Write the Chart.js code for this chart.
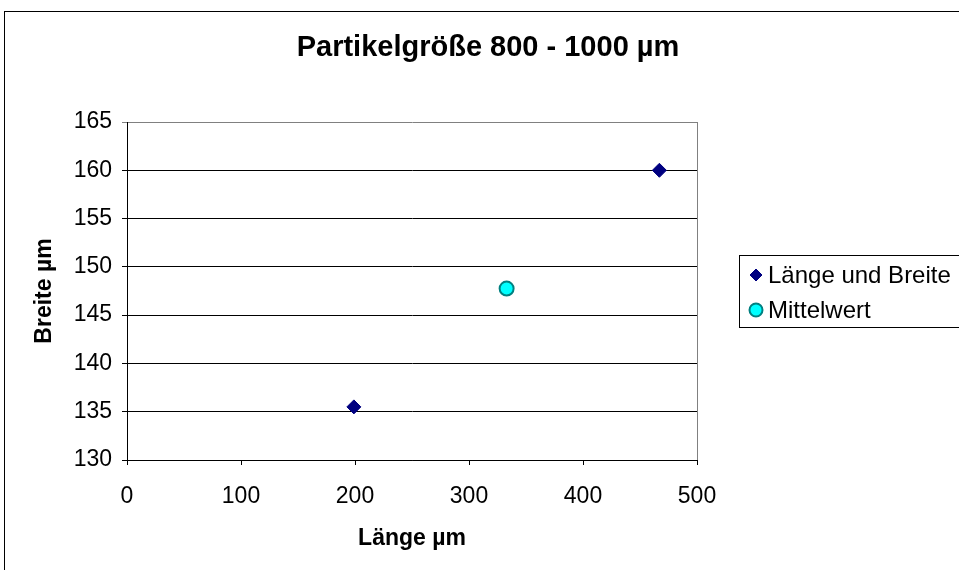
<!DOCTYPE html>
<html>
<head>
<meta charset="utf-8">
<title>Partikelgröße 800 - 1000 µm</title>
<script src="https://cdn.jsdelivr.net/npm/chart.js@4/dist/chart.umd.min.js"></script>
<style>
  html, body { margin: 0; padding: 0; background: #fff; }
  canvas { display: block; }
</style>
</head>
<body>
<canvas id="chart" width="959" height="570"></canvas>
<script>
// values
const laengeWerte = [199, 467];
const breiteWerte = [135.5, 160];
const mittelLaenge = [333];
const mittelBreite = [147.75];
const seriesNames = ['Länge und Breite', 'Mittelwert'];
const chartTitle = 'Partikelgröße 800 - 1000 µm';
const xTicks = [0, 100, 200, 300, 400, 500];
const yTicks = [130, 135, 140, 145, 150, 155, 160, 165];

const FONT = '"Liberation Sans", Arial, sans-serif';

function toPoints(xs, ys) {
  return xs.map((x, i) => ({ x, y: ys[i] }));
}

// outer frame, title, plot-area right edge and the boxed legend (Excel style)
const excelFrame = {
  id: 'excelFrame',
  beforeDraw(chart) {
    const ctx = chart.ctx;
    ctx.save();
    ctx.fillStyle = '#fff';
    ctx.fillRect(0, 0, chart.width, chart.height);
    ctx.strokeStyle = '#000';
    ctx.lineWidth = 1;
    ctx.strokeRect(4.5, 11.5, 1000, 1000);
    ctx.fillStyle = '#000';
    ctx.font = 'bold 29px ' + FONT;
    ctx.textAlign = 'center';
    ctx.textBaseline = 'middle';
    ctx.fillText(chartTitle, 488, 48);
    ctx.restore();
  },
  afterDraw(chart) {
    const ctx = chart.ctx;
    const a = chart.chartArea;
    ctx.save();
    ctx.strokeStyle = '#808080';
    ctx.lineWidth = 1;
    ctx.beginPath();
    ctx.moveTo(Math.round(a.right) + 0.5, a.top);
    ctx.lineTo(Math.round(a.right) + 0.5, a.bottom);
    ctx.stroke();

    // legend
    ctx.strokeStyle = '#000';
    ctx.strokeRect(739.5, 255.5, 300, 72);
    const ds = chart.data.datasets;
    const rows = [275, 310];
    ctx.font = '24px ' + FONT;
    ctx.textBaseline = 'middle';
    ctx.textAlign = 'left';
    rows.forEach((y, i) => {
      const d = ds[i];
      Chart.helpers.drawPoint(ctx, {
        pointStyle: d.pointStyle,
        radius: i === 0 ? 6 : 6.5,
        borderWidth: d.borderWidth
      }, 756, y);
      ctx.fillStyle = d.backgroundColor;
      ctx.strokeStyle = d.borderColor;
      ctx.lineWidth = d.borderWidth;
      ctx.fill();
      ctx.stroke();
      ctx.fillStyle = '#000';
      ctx.fillText(seriesNames[i], 768, y + 1);
    });
    ctx.restore();
  }
};

new Chart(document.getElementById('chart'), {
  type: 'scatter',
  data: {
    datasets: [
      {
        label: seriesNames[0],
        data: toPoints(laengeWerte, breiteWerte),
        pointStyle: 'rectRot',
        pointRadius: 7,
        backgroundColor: '#000080',
        borderColor: '#000080',
        borderWidth: 1
      },
      {
        label: seriesNames[1],
        data: toPoints(mittelLaenge, mittelBreite),
        pointStyle: 'circle',
        pointRadius: 7,
        backgroundColor: '#00FFFF',
        borderColor: '#008080',
        borderWidth: 2
      }
    ]
  },
  options: {
    responsive: false,
    animation: false,
    layout: { padding: { left: 0, right: 262, top: 122, bottom: 0 } },
    plugins: {
      legend: { display: false },
      tooltip: { enabled: false },
      title: { display: false }
    },
    scales: {
      x: {
        type: 'linear',
        min: xTicks[0],
        max: xTicks[xTicks.length - 1],
        afterBuildTicks: (s) => { s.ticks = xTicks.map(v => ({ value: v })); },
        afterFit: (s) => { s.height = 110; },
        border: { color: '#000', width: 1 },
        grid: { drawOnChartArea: false, drawTicks: true, tickLength: 5, color: '#000' },
        ticks: { color: '#000', padding: 18, maxRotation: 0, font: { family: FONT, size: 23 } },
        title: {
          display: true,
          text: 'Länge µm',
          color: '#000',
          font: { family: FONT, size: 23, weight: 'bold' },
          padding: { top: 0, bottom: 18 }
        }
      },
      y: {
        type: 'linear',
        min: yTicks[0],
        max: yTicks[yTicks.length - 1],
        afterBuildTicks: (s) => { s.ticks = yTicks.map(v => ({ value: v })); },
        afterFit: (s) => { s.width = 127; },
        border: { color: '#000', width: 1 },
        grid: {
          tickLength: 5,
          color: (c) => (c.tick && c.tick.value === yTicks[yTicks.length - 1] ? '#808080' : '#000')
        },
        ticks: { color: '#000', padding: 10, font: { family: FONT, size: 23 } },
        title: {
          display: true,
          text: 'Breite µm',
          color: '#000',
          font: { family: FONT, size: 23, weight: 'bold' },
          padding: { top: 31, bottom: 0 }
        }
      }
    }
  },
  plugins: [excelFrame]
});
</script>
</body>
</html>
